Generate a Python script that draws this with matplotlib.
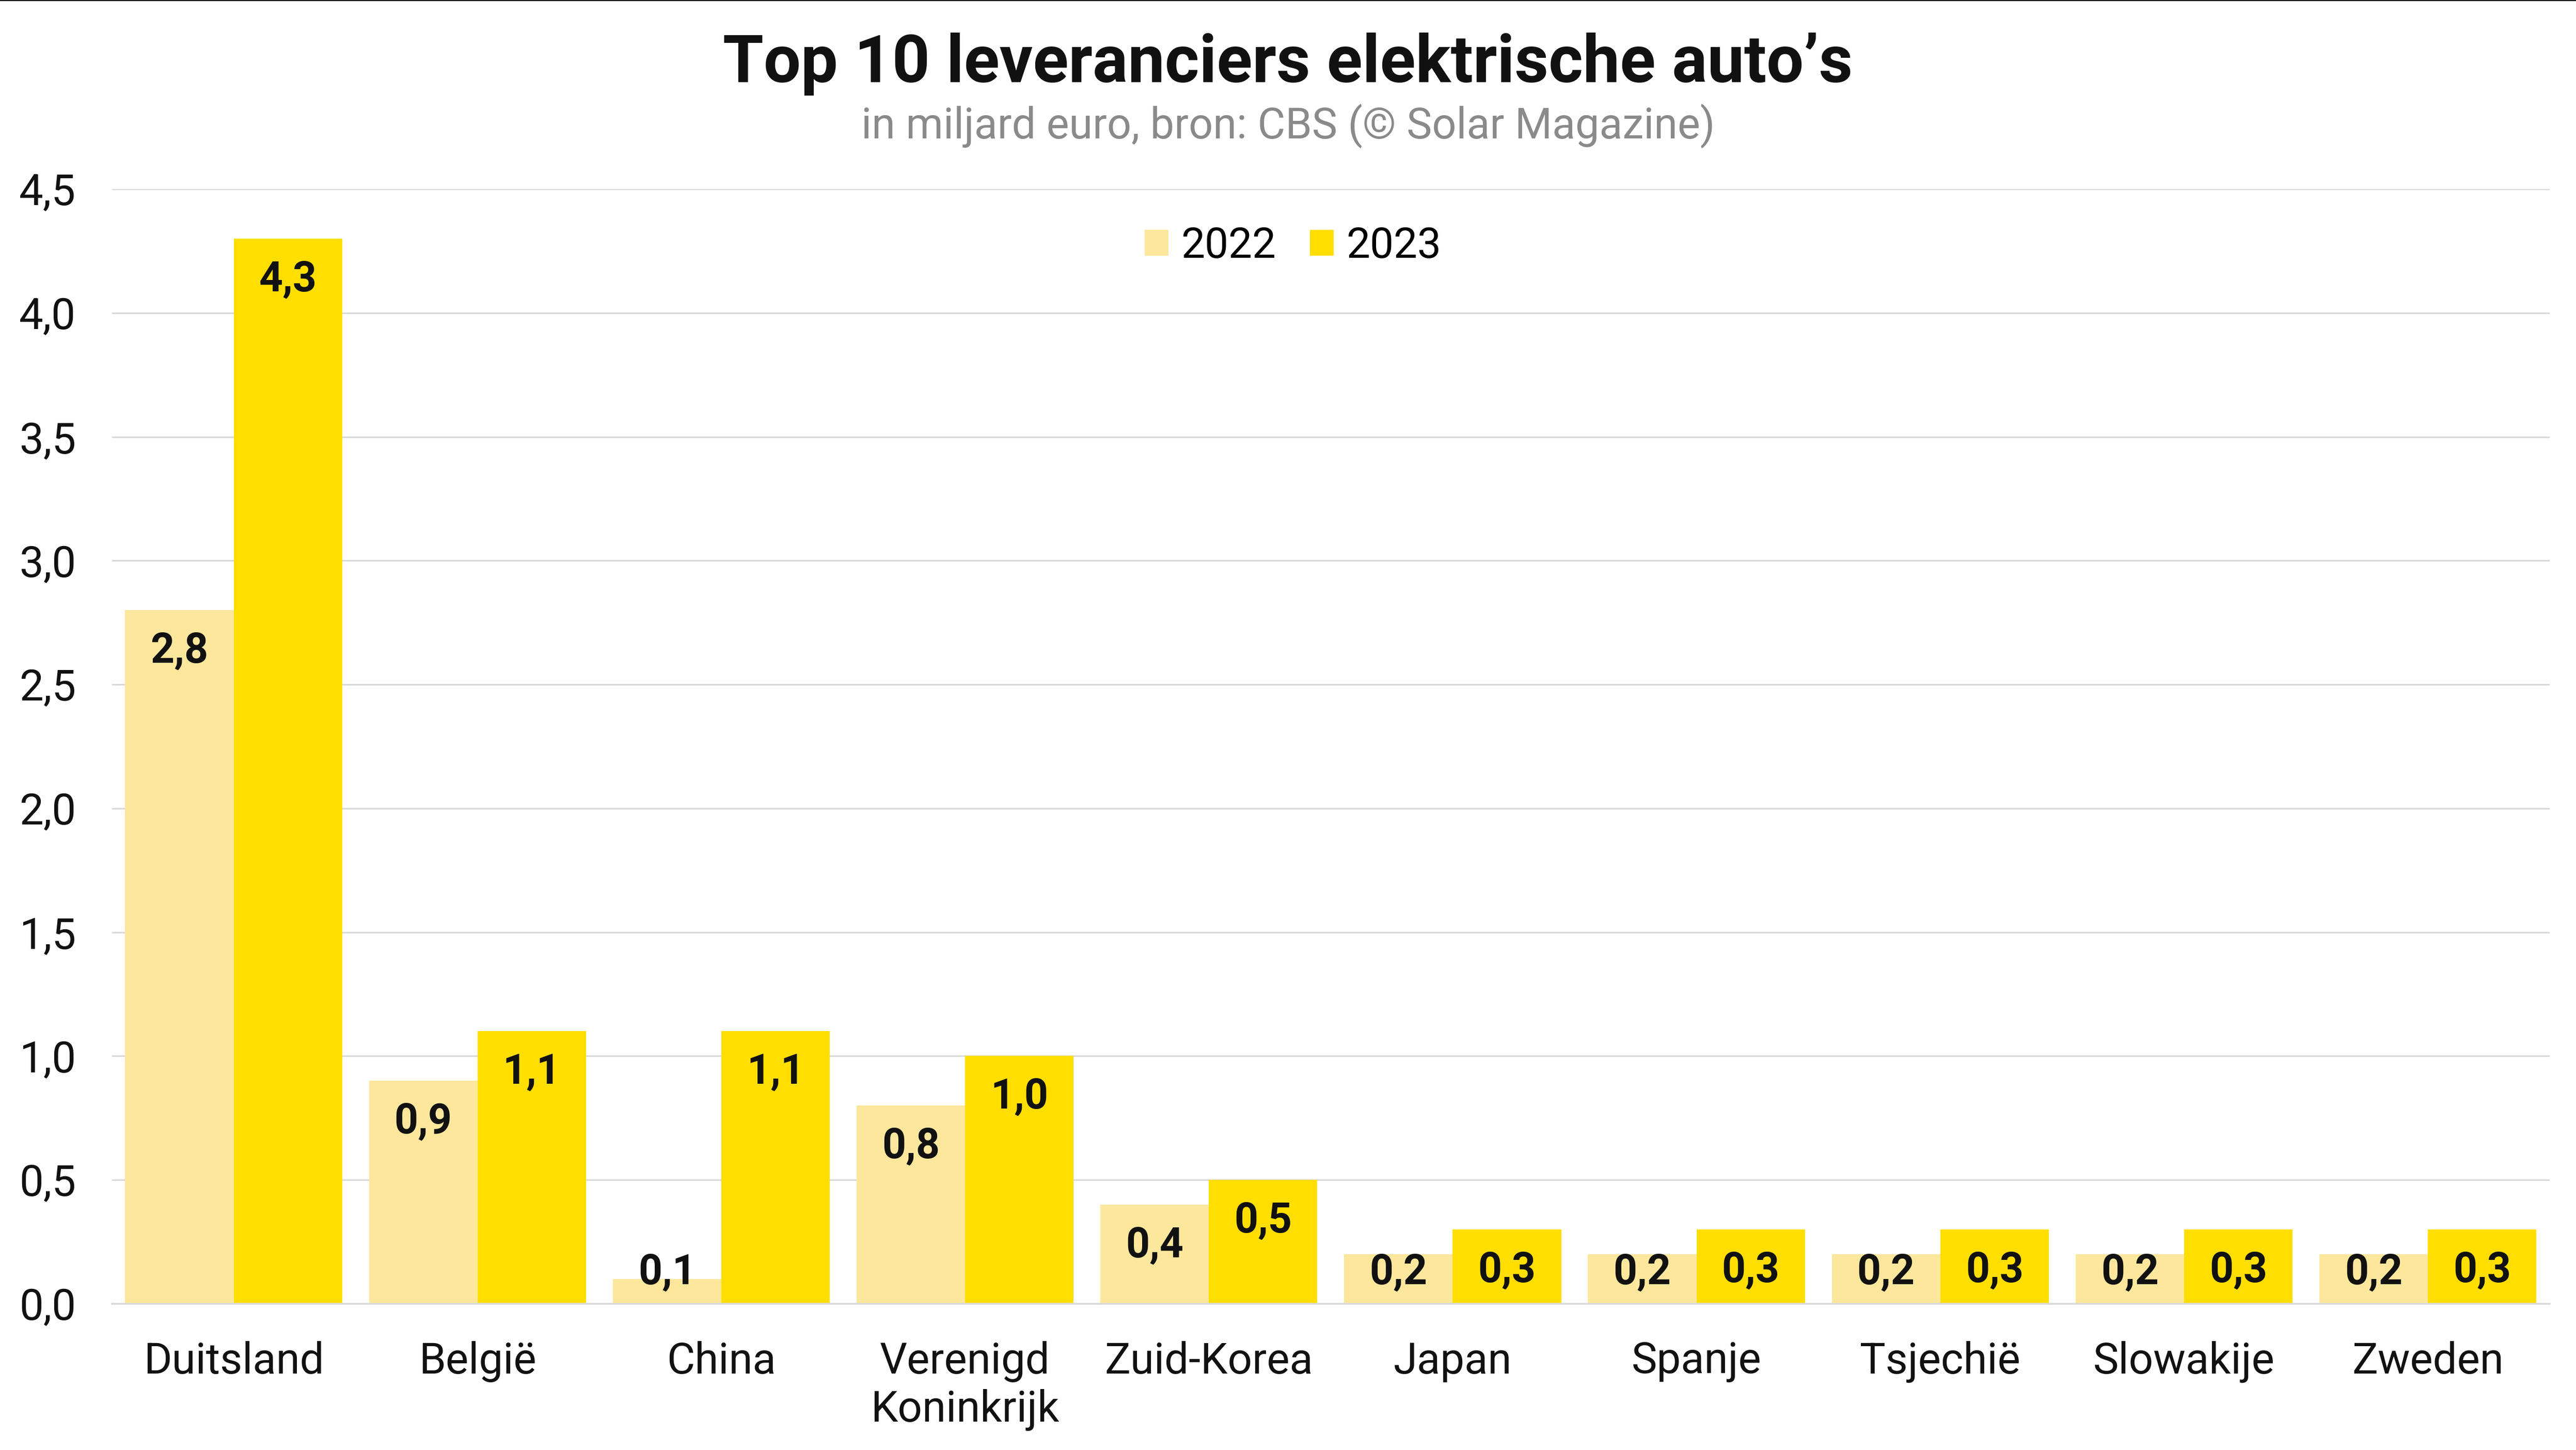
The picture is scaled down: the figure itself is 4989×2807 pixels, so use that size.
import matplotlib
matplotlib.use("Agg")
import matplotlib.pyplot as plt
from matplotlib.lines import Line2D
from matplotlib.patches import Patch
import numpy as np

categories = ["Duitsland", "België", "China", "Verenigd\nKoninkrijk", "Zuid-Korea",
              "Japan", "Spanje", "Tsjechië", "Slowakije", "Zweden"]
values_2022 = [2.8, 0.9, 0.1, 0.8, 0.4, 0.2, 0.2, 0.2, 0.2, 0.2]
values_2023 = [4.3, 1.1, 1.1, 1.0, 0.5, 0.3, 0.3, 0.3, 0.3, 0.3]
series_labels = ["2022", "2023"]
yticks = [0.0, 0.5, 1.0, 1.5, 2.0, 2.5, 3.0, 3.5, 4.0, 4.5]

title = "Top 10 leveranciers elektrische auto’s"
subtitle = "in miljard euro, bron: CBS (© Solar Magazine)"

c22 = "#FCE79C"
c23 = "#FFDE00"
grid_c = "#D9D9D9"

plt.rcParams['font.family'] = ['Roboto', 'DejaVu Sans']

fig = plt.figure(figsize=(49.89, 28.07), dpi=100)
ax = fig.add_axes([0.0434, 0.1009, 0.9464, 0.7687])

x = np.arange(len(categories))
w = 0.445
ax.bar(x - w/2, values_2022, width=w, color=c22, zorder=2)
ax.bar(x + w/2, values_2023, width=w, color=c23, zorder=2)

ax.set_xlim(-0.5, len(categories) - 0.5)
ax.set_ylim(0, 4.5)
ax.set_yticks(yticks)
ax.set_yticklabels([f"{t:.1f}".replace(".", ",") for t in yticks])
ax.set_xticks(x)
ax.set_xticklabels(categories, linespacing=1.2)
ax.tick_params(axis='both', length=0, labelsize=60, colors='#111111')
ax.tick_params(axis='y', pad=50)
ax.tick_params(axis='x', pad=52)

ax.grid(axis='y', color=grid_c, linewidth=2.2, zorder=0)
ax.set_axisbelow(True)
for s in ['top', 'right', 'left']:
    ax.spines[s].set_visible(False)
ax.spines['bottom'].set_color(grid_c)
ax.spines['bottom'].set_linewidth(2.6)
ax.spines['bottom'].set_zorder(3)

off = 0.166
min_c = 0.126
for xs, vals in [(x - w/2, values_2022), (x + w/2, values_2023)]:
    for xi, v in zip(xs, vals):
        yc = max(v - off, min_c)
        ax.text(xi, yc, f"{v:.1f}".replace(".", ","), ha='center', va='center',
                fontsize=58, fontweight='bold', color='#111111', zorder=4)

fig.text(0.5, 0.956, title, ha='center', va='center', fontsize=92,
         fontweight='bold', color='#111111')
fig.text(0.5, 0.913, subtitle, ha='center', va='center', fontsize=59.5,
         color='#8a8a8a')

handles = [Patch(facecolor=c22, edgecolor='none'), Patch(facecolor=c23, edgecolor='none')]
fig.legend(handles, series_labels, loc='center', bbox_to_anchor=(0.502, 0.830),
           ncol=2, frameon=False, fontsize=59, handlelength=0.56, handleheight=0.56,
           handletextpad=0.3, columnspacing=0.8)

fig.add_artist(Line2D([0, 1], [0.9997, 0.9997], color='#111111', linewidth=1.5,
                      transform=fig.transFigure))

fig.savefig("out.png", dpi=100, facecolor='white')
